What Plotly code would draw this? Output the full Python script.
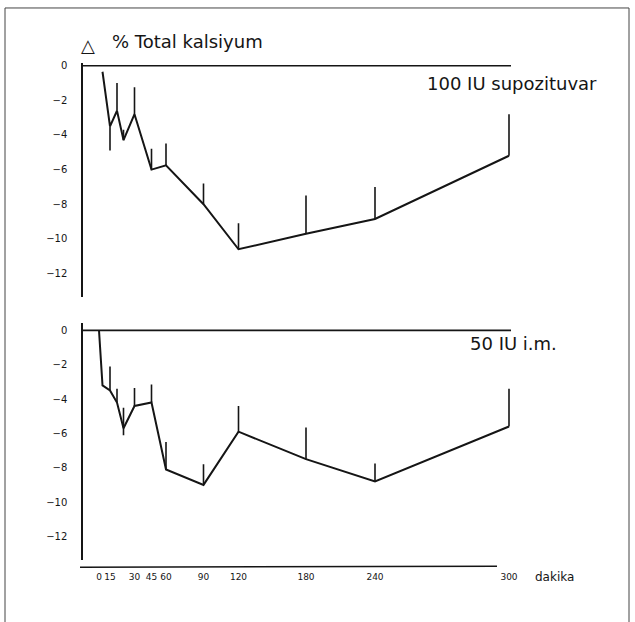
import numpy as np
import plotly.graph_objects as go

W, H = 635, 622

# hand-drawn, non-uniform time scale of the original (minutes -> axis position)
scale_minutes = [0, 5, 15, 20, 25, 30, 45, 60, 90, 120, 180, 240, 300]
scale_position = [99, 102.5, 110, 117, 123.5, 134.5, 151.5, 166, 203.5, 238.5, 306, 375, 509]

tick_minutes = [0, 15, 30, 45, 60, 90, 120, 180, 240, 300]
tick_labels = ["0", "15", "30", "45", "60", "90", "120", "180", "240", "300"]
y_tick_values = [0, -2, -4, -6, -8, -10, -12]

# 100 IU supozituvar
supp_minutes = [5, 15, 20, 25, 30, 45, 60, 90, 120, 180, 240, 300]
supp_change = [-0.35, -3.5, -2.6, -4.3, -2.8, -6.0, -5.75, -8.0, -10.6, -9.7, -8.85, -5.2]
supp_err_up = [0, 0, 1.6, 0.6, 1.55, 1.2, 1.25, 1.2, 1.5, 2.2, 1.85, 2.4]
supp_err_down = [0, 1.4, 0, 0, 0, 0, 0, 0, 0, 0, 0, 0]

# 50 IU i.m.
im_minutes = [0, 5, 15, 20, 25, 30, 45, 60, 90, 120, 180, 240, 300]
im_change = [0, -3.2, -3.5, -4.2, -5.7, -4.4, -4.2, -8.1, -9.0, -5.9, -7.5, -8.8, -5.6]
im_err_up = [0, 0, 1.4, 0.8, 1.2, 1.05, 1.05, 1.6, 1.2, 1.5, 1.85, 1.05, 2.2]
im_err_down = [0, 0, 0, 0, 0.4, 0, 0, 0, 0, 0, 0, 0, 0]


def pos(minutes):
    return np.interp(minutes, scale_minutes, scale_position)


def py(px):  # pixel row -> paper y
    return 1 - px / H


def pxx(px):  # pixel column -> paper x
    return px / W


INK = "#151515"
FONT = "DejaVu Sans"

fig = go.Figure()

for minutes, vals, up, down, xa, ya in [
    (supp_minutes, supp_change, supp_err_up, supp_err_down, "x", "y"),
    (im_minutes, im_change, im_err_up, im_err_down, "x2", "y2"),
]:
    fig.add_trace(go.Scatter(
        x=pos(minutes), y=vals, mode="lines",
        line=dict(color=INK, width=2),
        error_y=dict(type="data", symmetric=False, array=up, arrayminus=down,
                     color=INK, thickness=1.6, width=0),
        xaxis=xa, yaxis=ya, showlegend=False, hoverinfo="skip",
    ))

xrange = [83, 635]
common_x = dict(range=xrange, domain=[pxx(83), 1], showgrid=False, zeroline=False,
                showline=False, fixedrange=True)
common_y = dict(showgrid=False, zeroline=False, showline=True, linecolor=INK, linewidth=1.5,
                tickvals=y_tick_values, ticks="outside", ticklen=12,
                tickcolor="rgba(0,0,0,0)",
                tickfont=dict(family=FONT, size=10, color=INK))

fig.update_layout(
    width=W, height=H, margin=dict(l=0, r=0, t=0, b=0),
    paper_bgcolor="white", plot_bgcolor="white",
    xaxis=dict(**common_x, anchor="y", showticklabels=False),
    yaxis=dict(**common_y, range=[-(295 - 63) / 17.4, (63 - 60) / 17.4],
               domain=[py(295), py(60)], anchor="x"),
    xaxis2=dict(**common_x, anchor="y2", tickvals=pos(tick_minutes), ticktext=tick_labels,
                ticks="outside", ticklen=8, tickcolor="rgba(0,0,0,0)",
                tickfont=dict(family=FONT, size=9, color=INK)),
    yaxis2=dict(**common_y, range=[-(560 - 329) / 17.25, (329 - 322) / 17.25],
                domain=[py(560), py(322)], anchor="x2"),
)

shapes = []
# zero baselines
for xr, yr in [("x", "y"), ("x2", "y2")]:
    shapes.append(dict(type="line", xref=xr, yref=yr, x0=83, x1=511, y0=0, y1=0,
                       line=dict(color=INK, width=1.6)))
# bottom time axis line
shapes.append(dict(type="line", xref="paper", yref="paper", x0=pxx(80), x1=pxx(497),
                   y0=py(567), y1=py(566), line=dict(color=INK, width=1.5)))
# scan frame
for x0, y0, x1, y1 in [(5, 5, 629, 5), (5, 5, 5, 640), (629, 5, 629, 640)]:
    shapes.append(dict(type="line", xref="paper", yref="paper", x0=pxx(x0), x1=pxx(x1),
                       y0=py(y0), y1=py(y1), line=dict(color="#444", width=1)))
fig.update_layout(shapes=shapes)

ann = [
    dict(text="△", x=pxx(88), y=py(43), xanchor="center", yanchor="middle", size=18),
    dict(text="% Total kalsiyum", x=pxx(110), y=py(39), xanchor="left", yanchor="middle", size=18),
    dict(text="100 IU supozituvar", x=pxx(599), y=py(81), xanchor="right", yanchor="middle", size=18),
    dict(text="50 IU i.m.", x=pxx(468), y=py(342), xanchor="left", yanchor="middle", size=18),
    dict(text="dakika", x=pxx(533), y=py(577), xanchor="left", yanchor="middle", size=12),
]
for a in ann:
    fig.add_annotation(text=a["text"], x=a["x"], y=a["y"], xref="paper", yref="paper",
                       xanchor=a["xanchor"], yanchor=a["yanchor"], showarrow=False,
                       font=dict(family=FONT, size=a["size"], color=INK))

fig.write_html("out.html", config={"displayModeBar": False},
               post_script="document.body.style.margin='0px';")
